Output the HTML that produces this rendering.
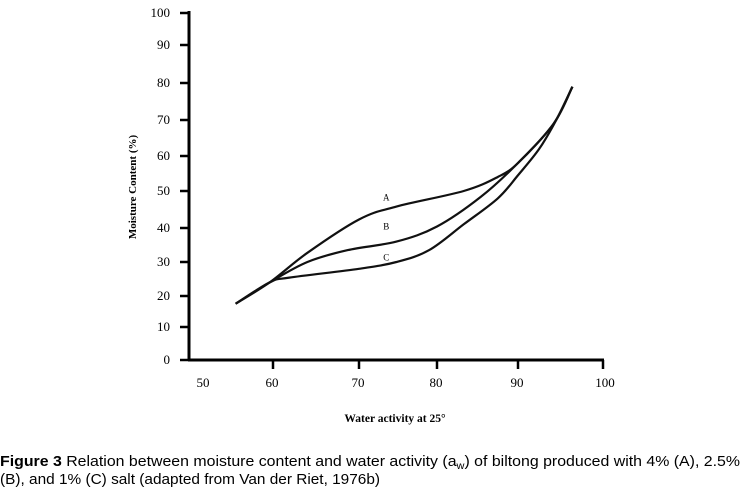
<!DOCTYPE html>
<html><head><meta charset="utf-8"><style>
html,body{margin:0;padding:0;background:#fff;}
svg{display:block;}
</style></head><body>
<svg id="chart" width="743" height="490" viewBox="0 0 743 490" xmlns="http://www.w3.org/2000/svg">
<g id="axes"></g>
<g id="series"></g>
<text transform="translate(136,187) rotate(-90)" text-anchor="middle" font-family="Liberation Serif, serif" font-weight="bold" font-size="11">Moisture Content (%)</text>
<text x="395" y="422" text-anchor="middle" font-family="Liberation Serif, serif" font-weight="bold" font-size="11.5">Water activity at 25°</text>
<g font-family="Liberation Sans, sans-serif" font-size="14.5">
<text x="0" y="466" textLength="740" lengthAdjust="spacingAndGlyphs"><tspan font-weight="bold">Figure 3</tspan> Relation between moisture content and water activity (a<tspan font-size="10" dy="3">w</tspan><tspan dy="-3">) of biltong produced with 4% (A), 2.5%</tspan></text>
<text x="0" y="484" textLength="380" lengthAdjust="spacingAndGlyphs">(B), and 1% (C) salt (adapted from Van der Riet, 1976b)</text>
</g>
</svg>
<script>
const xTickVals=[50,60,70,80,90,100];
const yTickVals=[0,10,20,30,40,50,60,70,80,90,100];
const seriesNames=["A","B","C"];
const seriesA_x=[55.5,59.6,64,70,74.8,83.3,87.5,90,94.2,96.4];
const seriesA_y=[17.5,24,32.7,42.3,45.8,50,54,58,69,79];
const seriesB_x=[55.5,59.6,64,68.7,74.8,80,85.4,90,94.2,96.4];
const seriesB_y=[17.5,24,30,33.5,36,40.4,48.4,58,69,79];
const seriesC_x=[55.5,59.6,61.9,70,74.8,79,83.3,87.5,90,92.5,94.5,96.4];
const seriesC_y=[17.5,24,25.4,28,30,33.5,41,48,54.5,62,70,79];
const labelPos=[[73.5,47.5],[73.5,39.5],[73.5,30.5]];

const xPx=[190,273,359,437,518,603];
const yPx=[360,327,296,262,228,191,156,120,83,45,13];
function interp(v,vals,px){
  for(let i=0;i<vals.length-1;i++){
    if(v<=vals[i+1]||i===vals.length-2){
      const t=(v-vals[i])/(vals[i+1]-vals[i]);
      return px[i]+t*(px[i+1]-px[i]);
    }
  }
}
const X=v=>interp(v,xTickVals,xPx);
const Y=v=>interp(v,yTickVals,yPx);
const NS="http://www.w3.org/2000/svg";
const axes=document.getElementById('axes');
const ser=document.getElementById('series');
function mk(tag,attrs,parent){const e=document.createElementNS(NS,tag);for(const k in attrs)e.setAttribute(k,attrs[k]);parent.appendChild(e);return e;}

const yAxis=mk('line',{x1:189,y1:11,x2:189,y2:361,stroke:'#000','stroke-width':3},axes);


const xAxis=mk('line',{x1:188,y1:360,x2:604,y2:360,stroke:'#000','stroke-width':3},axes);



yTickVals.forEach(v=>{
  const y=Y(v);
  const t=mk('line',{x1:180,y1:y,x2:189,y2:y,stroke:'#000','stroke-width':2.5},axes);
  
  
  const l=mk('text',{x:170,y:y+4,'text-anchor':'end','font-family':'Liberation Serif, serif','font-size':13},axes);
  l.textContent=v;
  
  
});
xTickVals.forEach(v=>{
  const x=X(v);
  if(v!==50){
    const t=mk('line',{x1:x,y1:360,x2:x,y2:369,stroke:'#000','stroke-width':2.5},axes);
    
    
  }
  const lx=v===50?203:(v===100?x+2:x-1);
  const l=mk('text',{x:lx,y:387,'text-anchor':'middle','font-family':'Liberation Serif, serif','font-size':13},axes);
  l.textContent=v;
  
  
});

function smooth(xs,ys){
  const p=xs.map((x,i)=>[X(x),Y(ys[i])]);
  let d='M'+p[0][0]+','+p[0][1];
  for(let i=0;i<p.length-1;i++){
    const p0=p[i-1]||p[i],p1=p[i],p2=p[i+1],p3=p[i+2]||p[i+1];
    const c1=[p1[0]+(p2[0]-p0[0])/6,p1[1]+(p2[1]-p0[1])/6];
    const c2=[p2[0]-(p3[0]-p1[0])/6,p2[1]-(p3[1]-p1[1])/6];
    d+=' C'+c1[0]+','+c1[1]+' '+c2[0]+','+c2[1]+' '+p2[0]+','+p2[1];
  }
  return d;
}
const allX=[seriesA_x,seriesB_x,seriesC_x],allY=[seriesA_y,seriesB_y,seriesC_y];
seriesNames.forEach((n,i)=>{
  const path=mk('path',{d:smooth(allX[i],allY[i]),fill:'none',stroke:'#111','stroke-width':2.2},ser);
  
  
  const l=mk('text',{x:X(labelPos[i][0]),y:Y(labelPos[i][1]),'text-anchor':'middle','font-family':'Liberation Serif, serif','font-size':9},ser);
  l.textContent=n;
  
  
});
</script>
</body></html>
